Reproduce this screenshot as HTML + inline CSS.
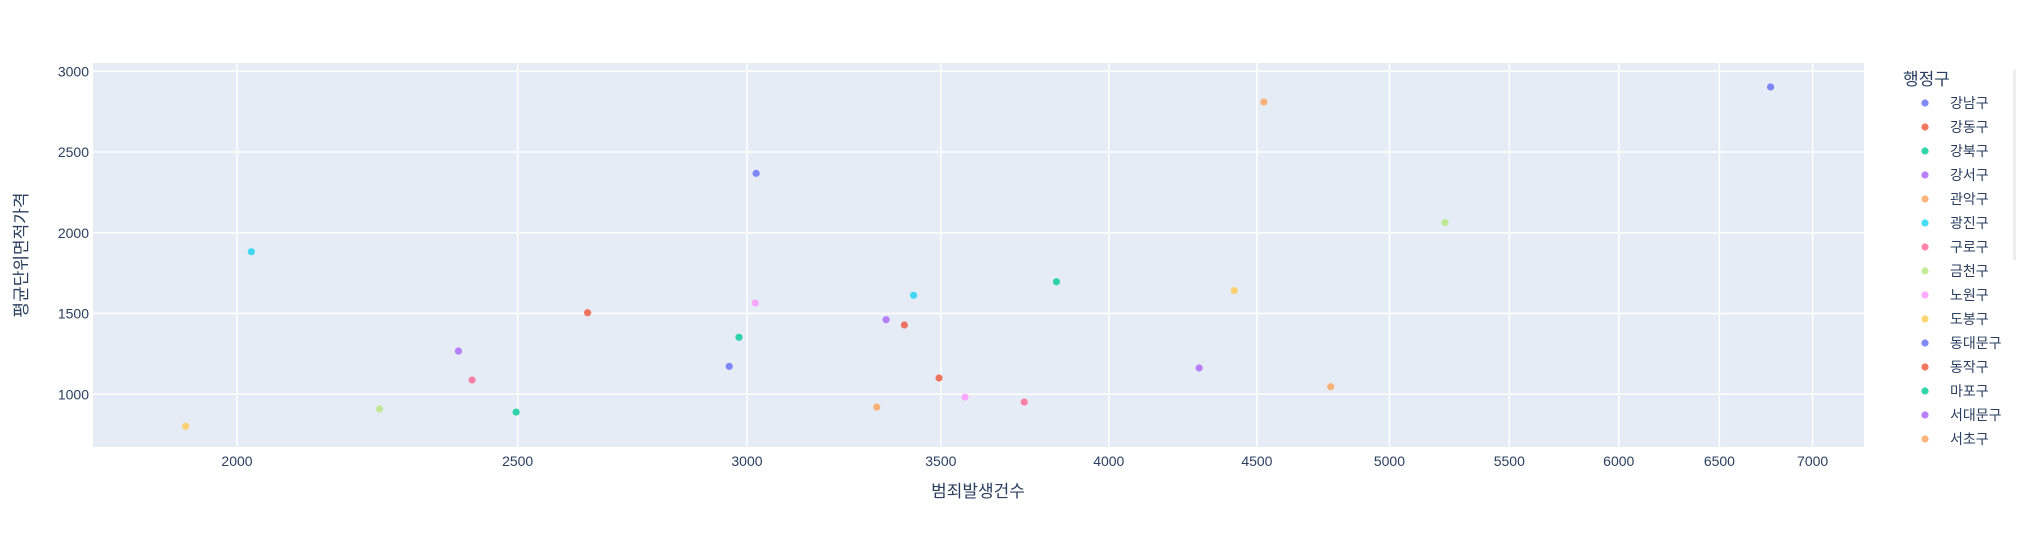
<!DOCTYPE html>
<html><head><meta charset="utf-8">
<style>
html,body{margin:0;padding:0;background:#fff;}
svg{display:block;font-family:"Liberation Sans","Noto Sans CJK KR",sans-serif;}
</style></head>
<body>
<svg id="chart" width="2017" height="542">
  <rect x="93" y="63" width="1771" height="384" fill="#e5ecf6"/>
  <g id="grid"></g>
  <g id="xticks"></g>
  <g id="yticks"></g>
  <g id="points"></g>
  <text x="978" y="497" text-anchor="middle" font-size="17" fill="#2a3f5f">범죄발생건수</text>
  <text transform="translate(27,255) rotate(-90)" text-anchor="middle" font-size="17" fill="#2a3f5f">평균단위면적가격</text>
  <g id="legend">
    <text x="1903" y="85" font-size="17" fill="#2a3f5f">행정구</text>
  </g>
  <rect x="2013" y="70" width="3" height="190" fill="#eee"/>
</svg>
<script>
const districts = ["강남구","강동구","강북구","강서구","관악구","광진구","구로구","금천구","노원구","도봉구","동대문구","동작구","마포구","서대문구","서초구","성동구","성북구","송파구","양천구","영등포구","용산구","은평구","종로구","중구","중랑구"];
const crimes = [6770,2643,2497,4298,4772,2023,3740,2240,3568,1920,2958,3400,3837,3351,4525,3425,2411,5226,3020,4420,3022,3495,2981,2385,3326];
const prices = [2903,1505,890,1163,1047,1883,952,909,983,802,1173,1429,1697,1462,2810,1613,1089,2063,1565,1642,2368,1101,1353,1268,921];
const xTicks = [2000,2500,3000,3500,4000,4500,5000,5500,6000,6500,7000];
const yTicks = [1000,1500,2000,2500,3000];
const legendCount = 15;
const colors = ["#636efa","#EF553B","#00cc96","#ab63fa","#FFA15A","#19d3f3","#FF6692","#B6E880","#FF97FF","#FECB52"];

const NS = "http://www.w3.org/2000/svg";
const X0 = 93, X1 = 1864, Y0 = 63, Y1 = 447;
const lmin = Math.log10(2000) - 144/2896, lmax = Math.log10(2000) + 1627/2896;
function xs(v){ return X0 + (Math.log10(v) - lmin) / (lmax - lmin) * (X1 - X0); }
function ys(v){ return 394.3 - (v - 1000) * 0.1615; }
function mk(tag, attrs, parent){ const e = document.createElementNS(NS, tag); for (const k in attrs) e.setAttribute(k, attrs[k]); parent.appendChild(e); return e; }

const grid = document.getElementById('grid');
const xt = document.getElementById('xticks');
const yt = document.getElementById('yticks');
xTicks.forEach(t => {
  const x = xs(t);
  const l = mk('line', {x1:x, x2:x, y1:Y0, y2:Y1, stroke:'#fff', 'stroke-width':1.5}, grid);
  
  
  const tx = mk('text', {x:x, y:466, 'text-anchor':'middle', 'font-size':14, fill:'#2a3f5f'}, xt);
  tx.textContent = t;
  
  
});
yTicks.forEach(t => {
  const y = ys(t);
  const l = mk('line', {x1:X0, x2:X1, y1:y, y2:y, stroke:'#fff', 'stroke-width':1.5}, grid);
  
  
  const tx = mk('text', {x:89, y:y+5, 'text-anchor':'end', 'font-size':14, fill:'#2a3f5f'}, yt);
  tx.textContent = t;
  
  
});
const pts = document.getElementById('points');
districts.forEach((d, i) => {
  const c = mk('circle', {cx:xs(crimes[i]), cy:ys(prices[i]), r:3.6, fill:colors[i % 10], opacity:0.8}, pts);
  
  
});
const lg = document.getElementById('legend');
for (let i = 0; i < legendCount; i++) {
  const y = 103 + i * 24;
  const g = mk('g', {}, lg);
  
  
  mk('circle', {cx:1925, cy:y, r:3.6, fill:colors[i % 10], opacity:0.8}, g);
  const t = mk('text', {x:1950, y:y+5, 'font-size':14, fill:'#2a3f5f'}, g);
  t.textContent = districts[i];
}
</script>
</body></html>
